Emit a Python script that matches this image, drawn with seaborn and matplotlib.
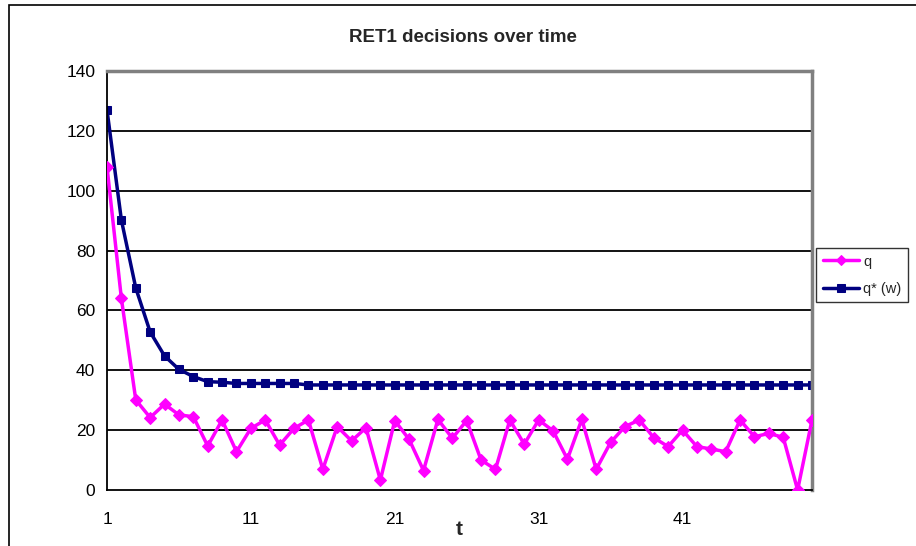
import numpy as np
import pandas as pd
from matplotlib import pyplot as plt
from matplotlib.patches import Rectangle
import seaborn as sns

# data
t = list(range(1, 51))
q = [108, 64, 30.1, 24.2, 28.7, 25.1, 24.5, 14.7, 23.4, 12.8,
     20.6, 23.4, 15.0, 20.6, 23.4, 6.9, 21.2, 16.4, 20.8, 3.3,
     23.2, 16.9, 6.5, 23.6, 17.3, 23.2, 10.0, 6.9, 23.4, 15.3,
     23.4, 19.8, 10.3, 23.6, 6.9, 15.9, 21.2, 23.4, 17.5, 14.5,
     20.0, 14.5, 13.7, 12.8, 23.4, 17.8, 18.9, 17.6, 0.0, 23.4]
q_star = [127, 90.2, 67.5, 52.8, 44.8, 40.3, 37.9, 36.2, 36.0, 35.6,
          35.6, 35.6, 35.6, 35.6] + [35.1] * 36
xticks = [1, 11, 21, 31, 41]
yticks = [0, 20, 40, 60, 80, 100, 120, 140]

df = pd.DataFrame({"t": t, "q": q, "q_star": q_star})

sns.set_style("white")
plt.rcParams['font.family'] = ['Liberation Sans', 'DejaVu Sans']

fig = plt.figure(figsize=(9.16, 5.46), dpi=100)
ax = fig.add_axes([107/916, 1-490/546, (812-107)/916, (490-71)/546])

# outer chart frame
fig.patches.append(Rectangle((9/916, -0.1), 1.2, 1-5/546+0.1, transform=fig.transFigure,
                             fill=False, edgecolor='black', linewidth=1.2))

for yv in yticks[1:-1]:
    ax.axhline(yv, color='black', lw=1.3, zorder=0)

sns.lineplot(data=df, x="t", y="q", ax=ax, color='#FF00FF', lw=2.5, marker='D',
             markersize=6, markeredgecolor='#FF00FF', label='q', zorder=3)
sns.lineplot(data=df, x="t", y="q_star", ax=ax, color='#000080', lw=2.5, marker='s',
             markersize=6, markeredgecolor='#000080', label='q* (w)', zorder=2)

ax.set_xlim(1, 50)
ax.set_ylim(0, 140)
ax.set_xticks(xticks)
ax.set_yticks(yticks)
ax.tick_params(axis='both', labelsize=12.5, length=5, width=1, color='black',
               labelcolor='black', direction='out')
ax.tick_params(axis='x', pad=11)
for s in ['top', 'right']:
    ax.spines[s].set_color('#808080')
    ax.spines[s].set_linewidth(2.5)
for s in ['left', 'bottom']:
    ax.spines[s].set_color('black')
    ax.spines[s].set_linewidth(1.3)

ax.set_xlabel('t', fontsize=15, fontweight='bold', labelpad=-5)
ax.set_ylabel('')
fig.text(463/916, 1-37/546, 'RET1 decisions over time', ha='center', va='center',
         fontsize=13.5, fontweight='bold')

leg = ax.legend(loc='upper left', bbox_to_anchor=(816/916, 1-248/546), bbox_transform=fig.transFigure,
                frameon=True, fancybox=False, edgecolor='black', fontsize=10.5,
                borderaxespad=0, handlelength=2.5, handletextpad=0.3, labelspacing=0.9,
                borderpad=0.45, markerscale=0.9)
leg.get_frame().set_linewidth(1)

fig.savefig('out.png', dpi=100)
